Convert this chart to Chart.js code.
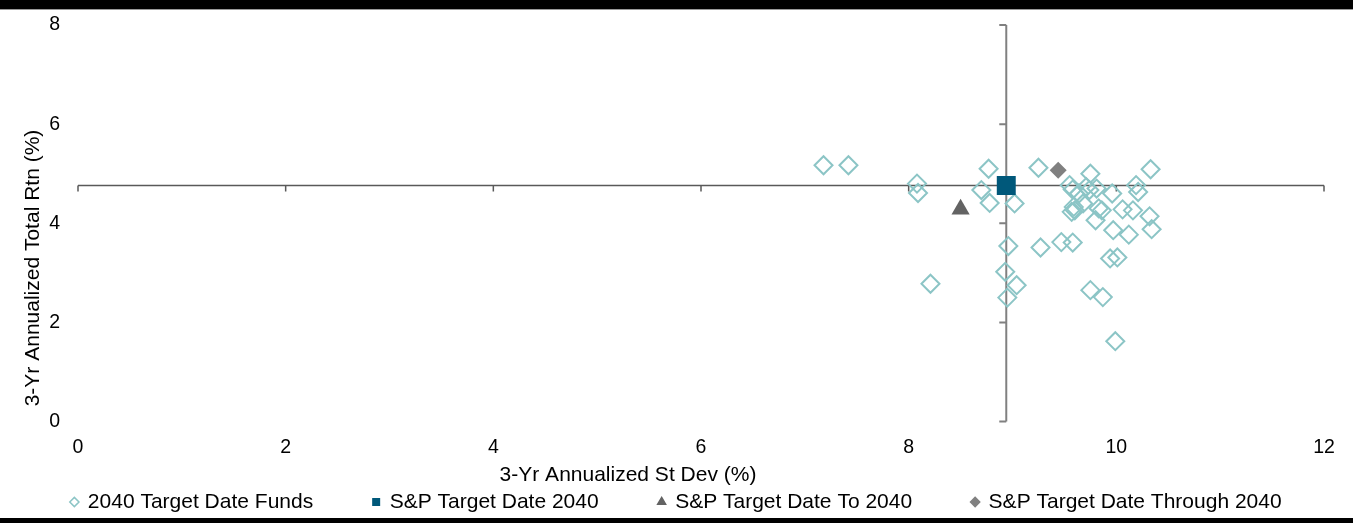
<!DOCTYPE html>
<html>
<head>
<meta charset="utf-8">
<script src="https://cdn.jsdelivr.net/npm/chart.js@4/dist/chart.umd.min.js"></script>
<style>
  body { margin: 0; background: #fff; }
  #frame { width: 1353px; border-top: 9px solid #000; border-bottom: 5px solid #000; }
  #rule { height: 1px; background: #999; }
  canvas { display: block; }
</style>
</head>
<body>
<div id="frame">
  <div id="rule"></div>
  <canvas id="myChart" width="1353" height="508"></canvas>
</div>
<script>
const seriesNames = ['2040 Target Date Funds', 'S&P Target Date 2040', 'S&P Target Date To 2040', 'S&P Target Date Through 2040'];
const xTitle = '3-Yr Annualized St Dev (%)';
const yTitle = '3-Yr Annualized Total Rtn (%)';

// peer funds: st dev (x) and return (y)
const fundX = [7.18, 7.42, 8.08, 8.09, 8.77, 8.70, 8.78, 9.02, 9.25, 8.96, 9.27, 9.47, 9.58,
    8.21, 8.93, 9.04, 8.95, 9.75, 9.87, 9.99, 9.94, 10.01, 9.97, 10.12, 10.34, 10.32, 10.16,
    10.06, 10.33, 10.19, 10.21, 9.75, 9.55, 9.58, 9.71, 9.74, 9.81, 9.96, 9.59, 9.57, 9.60,
    9.68, 9.83, 9.86, 9.80, 9.64];
const fundY = [5.17, 5.17, 4.80, 4.61, 5.10, 4.67, 4.41, 4.40, 5.12, 3.54, 3.51, 3.62, 3.61,
    2.78, 3.02, 2.75, 2.50, 2.65, 2.51, 1.62, 3.29, 3.31, 3.86, 3.77, 3.88, 4.14, 4.26,
    4.28, 5.09, 4.77, 4.63, 5.00, 4.77, 4.68, 4.73, 4.67, 4.70, 4.60, 4.33, 4.23, 4.26,
    4.40, 4.30, 4.26, 4.06, 4.60];

// benchmarks
const sp2040X = [8.94];
const sp2040Y = [4.76];
const spToX = [8.50];
const spToY = [4.28];
const spThroughX = [9.44];
const spThroughY = [5.07];

const xTicks = [0, 2, 4, 6, 8, 10, 12];
const yTicks = [0, 2, 4, 6, 8];

function toPoints(xs, ys) {
    return xs.map((x, i) => ({x: x, y: ys[i]}));
}

const fontFamily = '"Liberation Sans", Arial, sans-serif';

// the axes cross at the S&P Target Date 2040 point
const crossAxes = {
    id: 'crossAxes',
    beforeDraw(chart) {
        // legend row sits just under the plot, x tick labels overlap its box
        if (chart.legend) {
            chart.legend.top = chart.chartArea.bottom + 10;
        }
    },
    beforeDatasetsDraw(chart) {
        const ctx = chart.ctx;
        const xs = chart.scales.x;
        const ys = chart.scales.y;
        const cx = xs.getPixelForValue(sp2040X[0]);
        const cy = ys.getPixelForValue(sp2040Y[0]);
        ctx.save();
        // vertical line
        ctx.strokeStyle = '#808080';
        ctx.lineWidth = 2;
        ctx.beginPath();
        ctx.moveTo(cx, ys.getPixelForValue(yTicks[0]));
        ctx.lineTo(cx, ys.getPixelForValue(yTicks[yTicks.length - 1]));
        yTicks.forEach(v => {
            const py = ys.getPixelForValue(v);
            ctx.moveTo(cx, py);
            ctx.lineTo(cx - 7, py);
        });
        ctx.stroke();
        // horizontal line
        ctx.strokeStyle = '#595959';
        ctx.lineWidth = 1.5;
        ctx.beginPath();
        ctx.moveTo(xs.getPixelForValue(xTicks[0]), cy);
        ctx.lineTo(xs.getPixelForValue(xTicks[xTicks.length - 1]), cy);
        xTicks.forEach(v => {
            const px = xs.getPixelForValue(v);
            ctx.moveTo(px, cy);
            ctx.lineTo(px, cy + 6);
        });
        ctx.stroke();
        ctx.restore();
    },
    afterDraw(chart) {
        const ctx = chart.ctx;
        const area = chart.chartArea;
        ctx.save();
        ctx.fillStyle = '#000';
        ctx.font = '21px ' + fontFamily;
        ctx.textAlign = 'center';
        ctx.textBaseline = 'middle';
        ctx.fillText(xTitle, area.left + 550, area.bottom + 54);
        ctx.translate(area.left - 45, area.top + 243);
        ctx.rotate(-Math.PI / 2);
        ctx.fillText(yTitle, 0, 0);
        ctx.restore();
    }
};

const config = {
    type: 'scatter',
    data: {
        datasets: [
            {
                label: seriesNames[0],
                data: toPoints(fundX, fundY),
                pointStyle: 'rectRot',
                pointRadius: 9,
                borderWidth: 2,
                borderColor: '#8cc5c6',
                backgroundColor: 'rgba(0,0,0,0)',
                order: 4
            },
            {
                label: seriesNames[1],
                data: toPoints(sp2040X, sp2040Y),
                pointStyle: 'rect',
                pointRadius: 13.4,
                borderWidth: 0,
                borderColor: '#00587a',
                backgroundColor: '#00587a',
                order: 1
            },
            {
                label: seriesNames[2],
                data: toPoints(spToX, spToY),
                pointStyle: 'triangle',
                pointRadius: 10.5,
                borderWidth: 0,
                borderColor: '#636363',
                backgroundColor: '#636363',
                order: 2
            },
            {
                label: seriesNames[3],
                data: toPoints(spThroughX, spThroughY),
                pointStyle: 'rectRot',
                pointRadius: 8.5,
                borderWidth: 0,
                borderColor: '#808080',
                backgroundColor: '#808080',
                order: 3
            }
        ]
    },
    options: {
        responsive: false,
        animation: false,
        layout: {
            autoPadding: false,
            padding: {left: 0, right: 0, top: 15, bottom: 0}
        },
        plugins: {
            tooltip: {enabled: false},
            legend: {
                position: 'bottom',
                maxHeight: 58.5,
                labels: {
                    usePointStyle: true,
                    boxWidth: 6,
                    boxHeight: 6.5,
                    padding: 60,
                    color: '#000',
                    font: {size: 21, family: fontFamily},
                    generateLabels(chart) {
                        const items = Chart.defaults.plugins.legend.labels.generateLabels(chart);
                        items.forEach(it => { it.lineWidth = 1.5; });
                        // keep the series order, not the drawing order
                        items.sort((a, b) => a.datasetIndex - b.datasetIndex);
                        return items;
                    }
                }
            }
        },
        scales: {
            x: {
                type: 'linear',
                min: 0,
                max: 12,
                grid: {display: false, drawTicks: false},
                border: {display: false},
                afterBuildTicks(scale) { scale.ticks = xTicks.map(v => ({value: v})); },
                afterFit(scale) { scale.height = 38; },
                ticks: {
                    padding: 14,
                    color: '#000',
                    maxRotation: 0,
                    autoSkip: false,
                    font: {size: 19.5, family: fontFamily}
                }
            },
            y: {
                type: 'linear',
                min: 0,
                max: 8,
                grid: {display: false, drawTicks: false},
                border: {display: false},
                afterBuildTicks(scale) { scale.ticks = yTicks.map(v => ({value: v})); },
                afterFit(scale) {
                    scale.width = 78;
                    scale.paddingTop = 0;
                    scale.paddingBottom = 0;
                },
                ticks: {
                    padding: 18,
                    color: '#000',
                    font: {size: 19.5, family: fontFamily}
                }
            },
            // empty right-hand axis only reserves the right margin
            yRight: {
                type: 'linear',
                position: 'right',
                min: 0,
                max: 8,
                grid: {display: false, drawTicks: false},
                border: {display: false},
                ticks: {display: false},
                afterFit(scale) { scale.width = 29; }
            }
        }
    },
    plugins: [crossAxes]
};

var myChart = new Chart(document.getElementById('myChart'), config);
</script>
</body>
</html>
